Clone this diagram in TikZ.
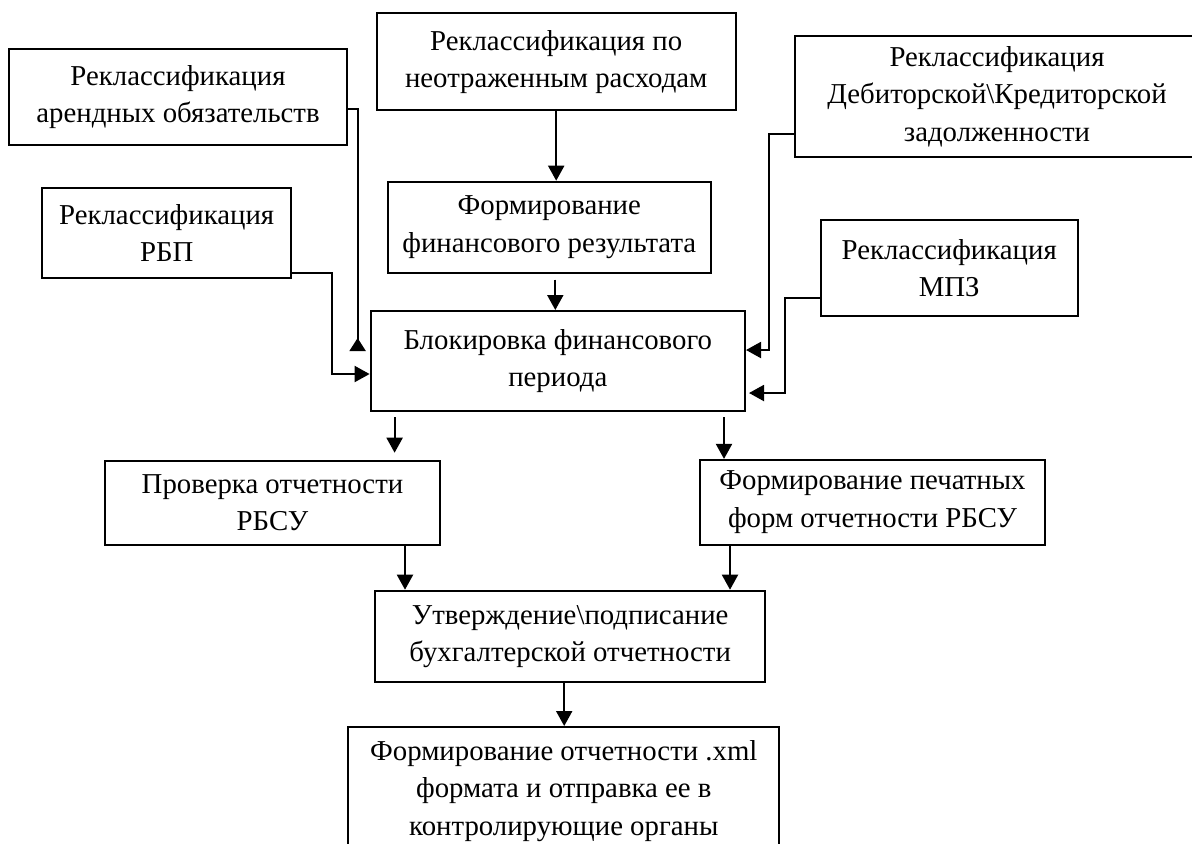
\documentclass[tikz,border=0pt]{standalone}
\usepackage{fontspec}
\setmainfont{Liberation Serif}
\usepackage{tikz}
\usetikzlibrary{arrows.meta, calc}

\newcommand{\boxfont}{\fontsize{14.4pt}{18.6pt}\selectfont}

\begin{document}
\begin{tikzpicture}[
  x=0.5pt, y=-0.5pt,
  box/.style={draw, line width=1pt, align=center, inner sep=0pt, font=\boxfont},
  arr/.style={-{Triangle[length=7.5pt, width=8pt]}, line width=1pt},
  arrup/.style={-{Triangle[reversed, length=6.5pt, width=8pt]}, line width=1pt}
]
\useasboundingbox (0,0) rectangle (1192,843);

% Top row
\node[box, minimum width=179.5pt, minimum height=48.4pt] (rasch) at (556.2,61.7)
  {Реклассификация по\\неотраженным расходам};
\node[box, minimum width=169pt, minimum height=48.3pt] (arend) at (178,97)
  {Реклассификация\\арендных обязательств};
\node[box, minimum width=202.5pt, minimum height=60.6pt] (deb) at (997,96.7)
  {Реклассификация\\Дебиторской\textbackslash Кредиторской\\задолженности};

% Middle row
\node[box, minimum width=161.7pt, minimum height=45.5pt] (fin) at (549.3,227.2)
  {Формирование\\финансового результата};
\node[box, minimum width=124.3pt, minimum height=45.3pt] (rbp) at (166.7,233)
  {Реклассификация\\РБП};
\node[box, minimum width=128.5pt, minimum height=48pt] (mpz) at (949.2,268)
  {Реклассификация\\МПЗ};

% Centre: blocking
\node[box, minimum width=187.2pt, minimum height=50pt] (block) at (557.8,361)
  {Блокировка финансового\\периода};

% Lower part
\node[box, minimum width=167.5pt, minimum height=42.3pt] (prov) at (272.5,503)
  {Проверка отчетности\\РБСУ};
\node[box, minimum width=172.5pt, minimum height=42.3pt] (print) at (872.5,502.2)
  {Формирование печатных\\форм отчетности РБСУ};
\node[box, minimum width=195.2pt, minimum height=45.5pt] (utv) at (570.2,636.2)
  {Утверждение\textbackslash подписание\\бухгалтерской отчетности};
\node[box, minimum width=215.5pt, minimum height=64pt] (xml) at (563.8,791)
  {Формирование отчетности .xml\\формата и отправка ее в\\контролирующие органы};

% Connectors
\draw[arr] (rasch.south) -- (rasch.south |- fin.north);
\coordinate (fb) at ($(fin.south)+(6,6)$);
\draw[arr] (fb) -- (fb |- block.north);

\draw[arrup] ($(arend.east)+(0,12)$) -| ($(block.west)+(-12,-10)$);
\draw[arr] ($(rbp.east)+(0,40)$) -- ++(40,0) |- ($(block.west)+(0,13)$);
\draw[arr] ($(deb.west)+(0,37)$) -- ++(-25,0) |- ($(block.east)+(0,-11)$);
\draw[arr] ($(mpz.west)+(0,29.5)$) -- ++(-35,0) |- ($(block.east)+(3,32)$);

\coordinate (bl) at ($(block.south west)+(25,5)$);
\draw[arr, shorten >=3.5pt] (bl) -- (bl |- prov.north);
\coordinate (br) at ($(block.south east)+(-22,5)$);
\draw[arr] (br) -- (br |- print.north);

\coordinate (pl) at ($(prov.south east)+(-36,0)$);
\draw[arr] (pl) -- (pl |- utv.north);
\coordinate (pr) at ($(print.south west)+(31,0)$);
\draw[arr] (pr) -- (pr |- utv.north);

\coordinate (ux) at ($(utv.south)+(-6,0)$);
\draw[arr] (ux) -- (ux |- xml.north);
\end{tikzpicture}
\end{document}
